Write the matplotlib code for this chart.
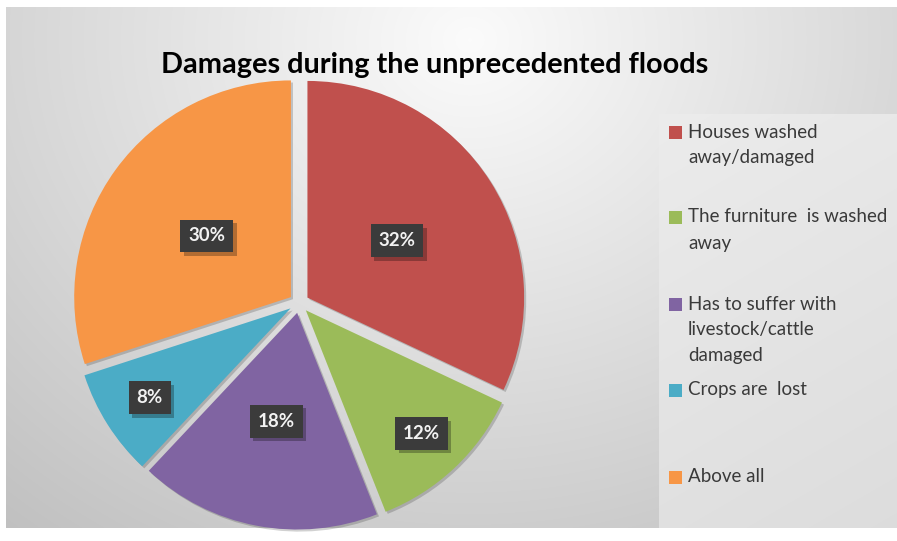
import numpy as np
import matplotlib
matplotlib.use("Agg")
import matplotlib.pyplot as plt
import matplotlib.patheffects as pe
from matplotlib.patches import Rectangle

# Data
categories = [
    "Houses washed\naway/damaged",
    "The furniture  is washed\naway",
    "Has to suffer with\nlivestock/cattle\ndamaged",
    "Crops are  lost",
    "Above all",
]
shares = [32, 12, 18, 8, 30]
colors = ["#C0504D", "#9BBB59", "#8064A2", "#4BACC6", "#F79646"]
title = "Damages during the unprecedented floods"

W, H = 897, 541
fig = plt.figure(figsize=(W / 100, H / 100), dpi=100, facecolor="white")
ax = fig.add_axes([0, 0, 1, 1])
ax.axis("off")

def to_y(py):
    """Convert a top-down pixel row to the axes' bottom-up coordinate."""
    return H - py

# Chart area with a soft radial grey gradient
x0, x1, top, bot = 6, 897, 7, 528
xs = np.arange(x0, x1) + 0.5
ys = np.arange(top, bot) + 0.5
X, Y = np.meshgrid(xs, ys)
d = np.hypot((X - 470) / 600, (Y - 40) / 520)
v = np.clip(0.985 - 0.19 * d, 0.75, 1.0)
ax.imshow(np.dstack([v, v, v]), extent=(x0, x1, to_y(bot), to_y(top)),
          origin="upper", zorder=0, interpolation="bilinear")

# Legend panel
lx0, ltop = 659, 114
lxs = np.arange(lx0, x1) + 0.5
lys = np.arange(ltop, bot) + 0.5
LX, LY = np.meshgrid(lxs, lys)
lv = 0.925 - 0.045 * ((LY - ltop) / (bot - ltop)) - 0.015 * ((LX - lx0) / (x1 - lx0))
ax.imshow(np.dstack([lv, lv, lv]), extent=(lx0, x1, to_y(bot), to_y(ltop)),
          origin="upper", zorder=1, interpolation="bilinear")

# Pie
radius = 216.7
center = (299, to_y(303))
wedges, _ = ax.pie(shares, colors=colors, startangle=90, counterclock=False,
                   radius=radius, center=center, explode=[10] * len(shares),
                   wedgeprops=dict(linewidth=0))
for w in wedges:
    w.set_zorder(2)
    w.set_path_effects([pe.SimplePatchShadow(offset=(1.5, -1.5), alpha=0.18,
                                             shadow_rgbFace="black"),
                        pe.Normal()])

# Percentage labels in dark boxes
label_frac = [0.49, 0.78, 0.51, 0.77, 0.48]
for w, val, f in zip(wedges, shares, label_frac):
    th = np.deg2rad((w.theta1 + w.theta2) / 2)
    cx, cy = w.center
    tx = cx + f * w.r * np.cos(th)
    ty = cy + f * w.r * np.sin(th)
    t = ax.text(tx, ty, f"{val}%", ha="center", va="center", color="#f2f2f2",
                fontsize=13.5, fontweight="bold", family="Lato", zorder=5,
                bbox=dict(boxstyle="square,pad=0.42", fc="#3b3b3b", ec="none"))
    t.get_bbox_patch().set_path_effects([
        pe.SimplePatchShadow(offset=(2.5, -2.5), alpha=0.28, shadow_rgbFace="black"),
        pe.Normal()])

# Title
ax.text(435, to_y(65), title, ha="center", va="center", fontsize=20.8,
        fontweight="bold", family="Lato", color="black", zorder=5)

# Legend entries
entry_y = [132, 217, 304, 390, 477]
for lab, col, ey in zip(categories, colors, entry_y):
    ax.add_patch(Rectangle((669, to_y(ey + 6.5)), 13, 13, fc=col, ec="none", zorder=4))
    for k, line in enumerate(lab.split("\n")):
        ax.text(688, to_y(ey + 26 * k), line, ha="left", va="center",
                fontsize=13.5, family="Lato", color="#3a3a3a", zorder=5,
                clip_on=True)

ax.set_xlim(0, W)
ax.set_ylim(0, H)
ax.set_aspect("auto")

fig.savefig("out.png", dpi=100, facecolor="white")
